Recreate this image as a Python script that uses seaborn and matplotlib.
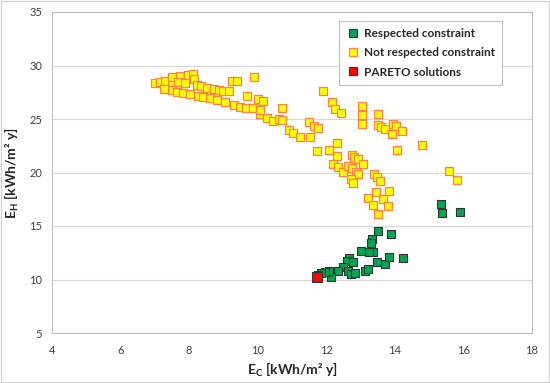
import matplotlib
matplotlib.use("Agg")
import matplotlib.pyplot as plt
import seaborn as sns
import pandas as pd
from matplotlib.lines import Line2D

# ---- data ----
not_ec = [7.00, 7.15, 7.29, 7.49, 7.51, 7.73, 7.68, 7.88, 7.97, 8.10, 8.14, 8.22, 8.36, 8.51,
          8.72, 8.88, 8.99, 9.17, 9.24, 9.41, 9.89, 7.27, 7.49, 7.64, 7.81, 8.02, 8.27, 8.41,
          8.61, 8.82, 9.04, 9.31, 9.48, 9.66, 9.87, 9.69, 10.01, 10.16, 10.08, 10.26, 10.45,
          10.63, 10.70, 10.70, 10.92, 11.02, 11.23, 11.52, 11.50, 11.65, 11.75, 11.89, 12.18,
          12.25, 12.42, 13.03, 13.03, 13.05, 13.50, 13.51, 13.61, 13.71, 13.95, 14.03, 14.22,
          13.93, 14.05, 14.78, 15.58, 15.80, 11.72, 12.08, 12.32, 12.30, 12.74, 12.80, 12.93,
          13.06, 12.20, 12.35, 12.48, 12.64, 12.74, 12.86, 12.93, 12.71, 12.77, 13.39, 13.48,
          13.56, 13.45, 13.83, 13.22, 13.37, 13.66, 13.80, 13.51, 10.06]
not_eh = [28.39, 28.49, 28.55, 28.49, 28.95, 29.05, 28.49, 28.34, 29.11, 29.18, 28.71, 28.18,
          28.08, 27.93, 27.80, 27.71, 27.64, 27.62, 28.58, 28.55, 28.90, 27.80, 27.71, 27.55,
          27.40, 27.31, 27.15, 27.03, 26.93, 26.78, 26.62, 26.31, 26.15, 26.00, 26.06, 27.15,
          26.84, 26.68, 25.44, 25.12, 24.81, 24.97, 24.91, 26.06, 23.97, 23.72, 23.29, 23.29,
          24.69, 24.37, 24.13, 27.62, 26.62, 25.91, 25.59, 26.24, 25.37, 24.50, 25.44, 24.44,
          24.28, 24.04, 24.50, 24.35, 23.91, 23.57, 22.10, 22.57, 20.14, 19.30, 22.04, 22.10,
          22.73, 21.54, 21.64, 21.48, 21.23, 20.77, 20.77, 20.49, 20.07, 20.64, 20.39, 20.02,
          19.86, 19.36, 19.05, 19.83, 19.58, 19.21, 18.21, 18.27, 17.59, 16.96, 17.50, 16.90,
          16.12, 25.84]

resp_ec = [15.34, 15.38, 15.90, 13.51, 13.90, 13.32, 13.29, 13.35, 13.25, 13.00, 13.47, 13.71,
           13.83, 14.24, 12.67, 12.59, 12.77, 12.49, 12.64, 12.71, 12.85, 13.13, 13.22, 12.35,
           12.13, 12.08, 11.96, 11.86, 11.76]
resp_eh = [17.03, 16.19, 16.28, 14.56, 14.22, 13.76, 13.38, 12.60, 12.54, 12.66, 11.61, 11.42,
           12.13, 11.98, 11.98, 11.76, 11.61, 11.20, 10.82, 10.51, 10.64, 10.82, 10.95, 10.79,
           10.21, 10.82, 10.73, 10.58, 10.42]

pareto_ec = [11.74]
pareto_eh = [10.21]

labels = ["Respected constraint", "Not respected constraint", "PARETO solutions"]
x_ticks = [4, 6, 8, 10, 12, 14, 16, 18]
y_ticks = [5, 10, 15, 20, 25, 30, 35]

# ---- style ----
sns.set_style("white")
plt.rcParams["font.family"] = ["Lato", "DejaVu Sans"]
plt.rcParams["mathtext.fontset"] = "custom"
plt.rcParams["mathtext.rm"] = "Lato"
plt.rcParams["mathtext.bf"] = "Lato:bold"

fig = plt.figure(figsize=(5.5, 3.83), dpi=100)
ax = fig.add_axes([52/550, 1-333/383, (532-52)/550, (333-12)/383])

df_not = pd.DataFrame({"EC": not_ec, "EH": not_eh})
df_resp = pd.DataFrame({"EC": resp_ec, "EH": resp_eh})
df_par = pd.DataFrame({"EC": pareto_ec, "EH": pareto_eh})

sns.scatterplot(data=df_not, x="EC", y="EH", ax=ax, marker="s", s=26,
                color="#FFFF00", edgecolor="#FF8040", linewidth=0.9, zorder=3)
sns.scatterplot(data=df_resp, x="EC", y="EH", ax=ax, marker="s", s=26,
                color="#00A651", edgecolor="#333333", linewidth=0.8, zorder=4)
sns.scatterplot(data=df_par, x="EC", y="EH", ax=ax, marker="s", s=46,
                color="#FF0000", edgecolor="#333333", linewidth=0.8, zorder=5)

ax.set_xlim(4, 18)
ax.set_ylim(5, 35)
ax.set_xticks(x_ticks)
ax.set_yticks(y_ticks)
ax.yaxis.grid(True, color="#D9D9D9", linewidth=0.8)
ax.xaxis.grid(False)
ax.set_axisbelow(True)
for sp in ax.spines.values():
    sp.set_color("#BFBFBF")
    sp.set_linewidth(0.8)
ax.tick_params(axis="both", direction="out", length=4, width=0.8, color="#BFBFBF",
               labelsize=8, labelcolor="#404040", pad=3)
ax.tick_params(axis="x", pad=5)

ax.set_xlabel(r"$\mathbf{E_C}$ [kWh/m² y]", fontsize=10, fontweight="bold", labelpad=3)
ax.set_ylabel(r"$\mathbf{E_H}$ [kWh/m² y]", fontsize=10, fontweight="bold", labelpad=6)

handles = [
    Line2D([], [], marker="s", linestyle="none", markersize=5.5,
           markerfacecolor="#00A651", markeredgecolor="#333333", markeredgewidth=0.8),
    Line2D([], [], marker="s", linestyle="none", markersize=5.5,
           markerfacecolor="#FFFF00", markeredgecolor="#FF8040", markeredgewidth=0.9),
    Line2D([], [], marker="s", linestyle="none", markersize=5.5,
           markerfacecolor="#FF0000", markeredgecolor="#333333", markeredgewidth=0.8),
]
leg = ax.legend(handles, labels, loc="upper left",
                bbox_to_anchor=(339/550, 1-21/383), bbox_transform=fig.transFigure,
                borderaxespad=0, frameon=True, fancybox=False, edgecolor="#BFBFBF",
                framealpha=1, prop={"size": 8.5, "weight": "bold"}, handletextpad=0.3,
                handlelength=1.2, labelspacing=0.7, borderpad=0.6)
leg.get_frame().set_linewidth(0.8)

# outer chart border
fig.patches.append(plt.Rectangle((0.002, 0.002), 0.996, 0.996, transform=fig.transFigure,
                                 fill=False, edgecolor="#D0D0D0", linewidth=0.8))

fig.savefig("out.png", dpi=100)
